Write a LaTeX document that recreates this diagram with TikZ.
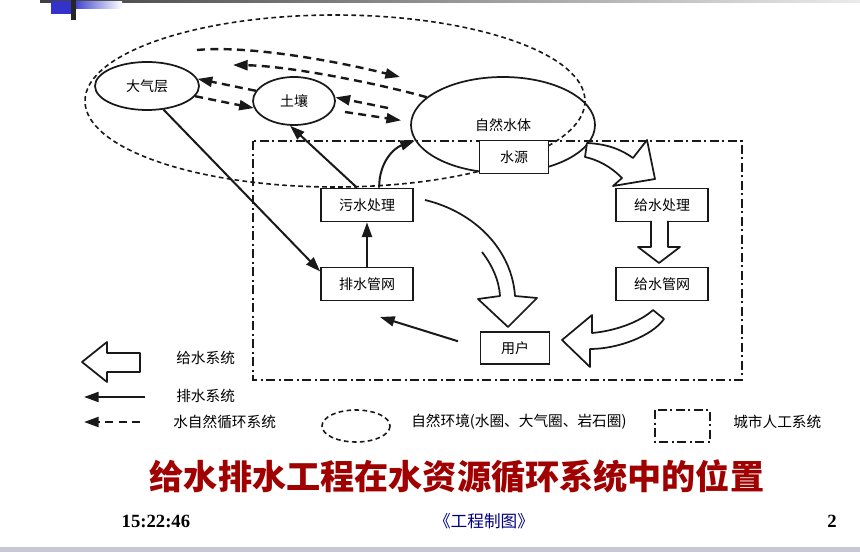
\documentclass[tikz,border=0pt]{standalone}
\usepackage{fontspec}
\setmainfont{Liberation Serif}
\newfontfamily\cjk{Noto Sans CJK SC}
\usetikzlibrary{arrows.meta,shapes.geometric}
\definecolor{titlered}{RGB}{160,0,0}
\definecolor{footblue}{RGB}{0,0,128}
\definecolor{slideblue}{RGB}{51,51,204}
\definecolor{footgray}{RGB}{200,200,212}
\definecolor{ink}{RGB}{25,25,25}
\tikzset{
  boxnode/.style={draw=ink, line width=1.3pt, fill=white, minimum width=69pt, minimum height=24.75pt, inner sep=0.75pt, font=\cjk\fontsize{10.5}{12}\selectfont},
  ellnode/.style={draw=ink, ellipse, line width=1.3pt, inner sep=0pt, font=\cjk\fontsize{10.5}{12}\selectfont},
  drain/.style={draw=ink, line width=1.5pt, -{Triangle[length=11pt,width=7.5pt]}},
  cyc/.style={draw=ink, line width=1.8pt, dash pattern=on 6pt off 4pt, -{Triangle[length=11pt,width=7.5pt]}},
  supply/.style={draw=ink, line width=1.3pt, line join=round},
  urban/.style={draw=ink, line width=1.2pt, dash pattern=on 7pt off 2.5pt on 1.5pt off 2.5pt},
  natural/.style={draw=ink, line width=1.2pt, dash pattern=on 3.5pt off 2.5pt},
  legtxt/.style={anchor=west, inner sep=0.75pt, font=\cjk\fontsize{11}{13}\selectfont}
}
\begin{document}
\begin{tikzpicture}[x=0.75pt,y=0.75pt,yscale=-1,xscale=1]
\useasboundingbox (0,0) rectangle (860,552);
%Shape: slide frame
\fill[left color=black!75, right color=black!8] (40,0) rectangle (860,3);
\fill[left color=slideblue, right color=white] (71,2) rectangle (122,9);
\fill[slideblue] (51,1) rectangle (71,14);
\fill[black!85] (71,0) rectangle (76,20);
\fill[footgray] (0,547) rectangle (860,552);
%Shape: Ellipse (natural environment)
\draw[natural] (335,101) ellipse [x radius=250, y radius=86];
%Shape: Rectangle (urban system)
\draw[urban] (253,141) rectangle (742,380);
%Shape: Ellipse
\node[ellnode, minimum width=78pt, minimum height=36pt] (dq) at (147,86) {大气层};
\node[ellnode, minimum width=61.5pt, minimum height=36pt] (tr) at (294,101) {土壤};
\node[ellnode, minimum width=138pt, minimum height=72pt] (zr) at (503,125) {自然水体};
%Shape: Rectangle
\node[boxnode, minimum width=51.75pt] (sy) at (514,157) {水源};
\node[boxnode] (ws) at (367,205) {污水处理};
\node[boxnode] (pg) at (367,284) {排水管网};
\node[boxnode] (js) at (662,205) {给水处理};
\node[boxnode] (jg) at (662,284) {给水管网};
\node[boxnode, minimum width=51.75pt, minimum height=24pt] (yh) at (515,348) {用户};
%Straight Lines
\draw[drain] (dq.-55) -- (pg.165);
\draw[drain] (ws.120) -- (tr.-99);
\draw[drain] (ws.55) .. controls (379,162) and (394,148) .. (zr.190);
\draw[drain] (pg.north) -- (ws.south);
\coordinate (ue) at (380,317);
\draw[drain, shorten <=17pt] (yh.west) -- (ue);
%Dashed Lines
\coordinate (c1a) at (197,50);
\coordinate (c1b) at (400,77);
\draw[cyc] (c1a) .. controls (250,45) and (340,62) .. (c1b);
\coordinate (c2b) at (233,65);
\draw[cyc] (zr.160) .. controls (380,84) and (290,66) .. (c2b);
\draw[cyc] (tr.165) -- (dq.8);
\draw[cyc] (dq.-12) -- (tr.190);
\coordinate (c5) at (388,108);
\draw[cyc] (c5) -- (tr.5);
\coordinate (c6) at (345,112);
\draw[cyc, shorten >=7pt] (c6) -- (zr.178);
%Shape: hollow arrows
\draw[supply, fill=white] (587,143) .. controls (608,144) and (622,150) .. (633,158) -- (647,140) -- (655,179) -- (613,186) -- (622,178) .. controls (610,166) and (598,160) .. (585,157) -- cycle;
\draw[supply, fill=white] (651,221) -- (651,247) -- (638,247) -- (659,263) -- (680,247) -- (668,247) -- (668,221);
\draw[supply, fill=white] (653,310) .. controls (640,322) and (615,331) .. (592,333) -- (592,315) -- (562,340) -- (590,367) -- (590,349) .. controls (618,349) and (652,336) .. (664,319) -- cycle;
\draw[supply] (482,252) .. controls (492,265) and (499,280) .. (500,296) -- (478,299) -- (508,327) -- (537,298) -- (515,296) .. controls (512,250) and (475,212) .. (425,200);
%Legend
\draw[supply] (82,362) -- (107,342) -- (107,353) -- (140,353) -- (140,372) -- (107,372) -- (107,382) -- cycle;
\coordinate (l1a) at (145,397);
\coordinate (l1b) at (84,397);
\draw[drain] (l1a) -- (l1b);
\coordinate (l2a) at (140,422);
\coordinate (l2b) at (84,422);
\draw[cyc] (l2a) -- (l2b);
\draw[natural] (356,426) ellipse [x radius=34, y radius=16];
\draw[urban] (655,410) rectangle (710,442);
% Text Node
\node[legtxt] (t1) at (175,358) {给水系统};
\node[legtxt] (t2) at (175,396) {排水系统};
\node[legtxt] (t3) at (172,422) {水自然循环系统};
\node[legtxt] (t4) at (410,422) {自然环境(水圈、大气圈、岩石圈)};
\node[legtxt] (t5) at (732,422) {城市人工系统};
% Text Node
\node[font=\cjk\bfseries\fontsize{25.6}{30}\selectfont, text=titlered] (title) at (457,477) {给水排水工程在水资源循环系统中的位置};
\node[anchor=west, font=\bfseries\fontsize{14}{16}\selectfont] (time) at (117,521) {15:22:46};
\node[font=\cjk\fontsize{12.5}{15}\selectfont, text=footblue] (course) at (484,521) {《工程制图》};
\node[font=\bfseries\fontsize{14}{16}\selectfont] (pgno) at (832,521) {2};
\end{tikzpicture}
\end{document}
